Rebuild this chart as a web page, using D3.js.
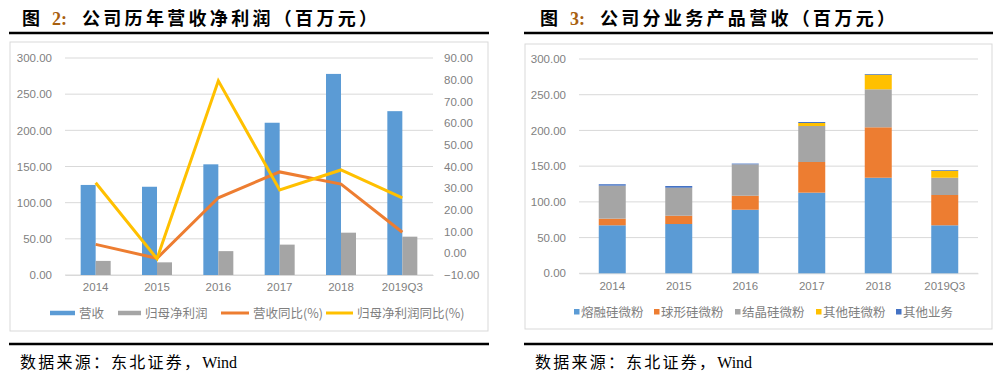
<!DOCTYPE html>
<html>
<head>
<meta charset="utf-8">
<script src="https://cdn.jsdelivr.net/npm/d3@7"></script>
<style>
  body { margin: 0; background: #fff; }
  svg { display: block; }
</style>
</head>
<body>
<svg id="chart" width="999" height="373"></svg>
<script>
// data
var years = ["2014", "2015", "2016", "2017", "2018", "2019Q3"]
var revenue = [124.5, 122, 153, 210.5, 278, 226.5]
var netProfit = [19.5, 17.5, 33, 42, 58.5, 53]
var revenueYoY = [4.1, -2.3, 25.6, 37.5, 31.9, 9.7]
var profitYoY = [32.5, -2.5, 79.5, 29.2, 38.4, 25.5]

var fused = [67.2, 69, 89, 112.9, 133.8, 67.2]
var spherical = [9.3, 11.6, 19.6, 42.9, 70.6, 42.4]
var crystal = [46.2, 39.2, 44, 50.4, 53.2, 24.2]
var otherSilica = [0, 0, 0, 4.2, 20.4, 9.8]
var otherBiz = [2, 2.4, 1, 1.4, 1, 1]

var leftTicks = [0, 50, 100, 150, 200, 250, 300]
var rightTicks = [-10, 0, 10, 20, 30, 40, 50, 60, 70, 80, 90]

var blue = "#5b9bd5", orange = "#ed7d31", gray = "#a5a5a5", yellow = "#ffc000", darkBlue = "#4472c4"
var tickFont = "'Liberation Sans', Arial, sans-serif"
var cjkSans = "'Noto Sans CJK SC', sans-serif"
var serif = "'Liberation Serif', 'Noto Sans CJK SC', serif"

var svg = d3.select("#chart")

// frame: title, rules, box, source line
function frame(x0, x1, boxX0, boxX1, boxY0, boxY1, tx, num, title) {
  svg.append("text")
    .attr("x", tx).attr("y", 25)
    .attr("font-family", cjkSans).attr("font-weight", "bold").attr("font-size", 18)
    .attr("fill", "#000")
    .text("图")
  svg.append("text")
    .attr("x", tx + 30).attr("y", 25)
    .attr("font-family", serif).attr("font-weight", "bold").attr("font-size", 18)
    .attr("fill", "#a8600f")
    .text(num + ":")
  svg.append("text")
    .attr("x", tx + 60).attr("y", 25)
    .attr("font-family", cjkSans).attr("font-weight", "bold").attr("font-size", 18)
    .attr("fill", "#000")
    .attr("textLength", 295).attr("lengthAdjust", "spacing")
    .text(title)

  svg.append("line")
    .attr("x1", x0).attr("x2", x1).attr("y1", 33).attr("y2", 33)
    .attr("stroke", "#000").attr("stroke-width", 2.5)

  svg.append("rect")
    .attr("x", boxX0).attr("y", boxY0)
    .attr("width", boxX1 - boxX0).attr("height", boxY1 - boxY0)
    .attr("fill", "none").attr("stroke", "#d9d9d9").attr("stroke-width", 1)

  svg.append("line")
    .attr("x1", x0).attr("x2", x1).attr("y1", 344).attr("y2", 344)
    .attr("stroke", "#000").attr("stroke-width", 2.5)

  var s = svg.append("text")
    .attr("x", x0 + 11).attr("y", 368)
    .attr("font-family", serif)
    .attr("font-size", 16)
    .attr("fill", "#000")
  s.append("tspan").attr("textLength", 180).attr("lengthAdjust", "spacing").text("数据来源：东北证券，")
  s.append("tspan").text("Wind")
}

frame(9, 489, 10, 488, 42, 331, 22, "2", "公司历年营收净利润（百万元）")
frame(524, 993, 525, 992, 44, 329, 540, "3", "公司分业务产品营收（百万元）")

// ---------- left chart ----------
var xL = d3.scaleBand().domain(years).range([65, 433])
var yL = d3.scaleLinear().domain([0, 300]).range([275, 58])
var yR = d3.scaleLinear().domain([-10, 90]).range([275, 58])

var gL = svg.append("g")

gL.append("g")
  .selectAll("line").data(leftTicks).enter().append("line")
  .attr("x1", 65).attr("x2", 433)
  .attr("y1", function (d) { return yL(d) }).attr("y2", function (d) { return yL(d) })
  .attr("stroke", "#d9d9d9").attr("stroke-width", 1)

var axL = gL.append("g").attr("transform", "translate(55,0)")
  .call(d3.axisLeft(yL).tickValues(leftTicks).tickFormat(d3.format(".2f")).tickSize(0))
axL.select(".domain").remove()
axL.selectAll("text").attr("font-family", tickFont).attr("font-size", 11.5).attr("fill", "#7f7f7f")

var axR = gL.append("g").attr("transform", "translate(441,0)")
  .call(d3.axisRight(yR).tickValues(rightTicks).tickFormat(d3.format(".2f")).tickSize(0))
axR.select(".domain").remove()
axR.selectAll("text").attr("font-family", tickFont).attr("font-size", 11.5).attr("fill", "#7f7f7f")

var axXL = gL.append("g").attr("transform", "translate(0,275)")
  .call(d3.axisBottom(xL).tickSize(0).tickPadding(8))
axXL.select(".domain").attr("stroke", "#d9d9d9")
axXL.selectAll("text").attr("font-family", tickFont).attr("font-size", 11.5).attr("fill", "#7f7f7f")

var bw = 15
gL.selectAll(".rev").data(revenue).enter().append("rect")
  .attr("x", function (d, i) { return xL(years[i]) + xL.bandwidth() / 2 - bw })
  .attr("y", function (d) { return yL(d) })
  .attr("width", bw)
  .attr("height", function (d) { return yL(0) - yL(d) })
  .attr("fill", blue)

gL.selectAll(".np").data(netProfit).enter().append("rect")
  .attr("x", function (d, i) { return xL(years[i]) + xL.bandwidth() / 2 })
  .attr("y", function (d) { return yL(d) })
  .attr("width", bw)
  .attr("height", function (d) { return yL(0) - yL(d) })
  .attr("fill", gray)

var line = d3.line()
  .x(function (d, i) { return xL(years[i]) + xL.bandwidth() / 2 })
  .y(function (d) { return yR(d) })

gL.append("path").datum(revenueYoY)
  .attr("d", line).attr("fill", "none")
  .attr("stroke", orange).attr("stroke-width", 3)

gL.append("path").datum(profitYoY)
  .attr("d", line).attr("fill", "none")
  .attr("stroke", yellow).attr("stroke-width", 3)

// left legend
var legL = [
  { name: "营收", color: blue, x: 50, w: 25, sw: 4.5 },
  { name: "归母净利润", color: gray, x: 118, w: 23, sw: 4.5 },
  { name: "营收同比(%)", color: orange, x: 221, w: 28, sw: 3 },
  { name: "归母净利润同比(%)", color: yellow, x: 326, w: 27, sw: 3 }
]
var lg = gL.selectAll(".legL").data(legL).enter().append("g")
lg.append("line")
  .attr("x1", function (d) { return d.x }).attr("x2", function (d) { return d.x + d.w })
  .attr("y1", 313).attr("y2", 313)
  .attr("stroke", function (d) { return d.color })
  .attr("stroke-width", function (d) { return d.sw })
lg.append("text")
  .attr("x", function (d) { return d.x + d.w + 4 })
  .attr("y", 317.5)
  .attr("font-family", cjkSans).attr("font-size", 12.5).attr("fill", "#7f7f7f")
  .text(function (d) { return d.name })

// ---------- right chart ----------
var seriesNames = ["熔融硅微粉", "球形硅微粉", "结晶硅微粉", "其他硅微粉", "其他业务"]
var seriesColors = [blue, orange, gray, yellow, darkBlue]
var rows = years.map(function (y, i) {
  return { year: y, s0: fused[i], s1: spherical[i], s2: crystal[i], s3: otherSilica[i], s4: otherBiz[i] }
})
var stack = d3.stack().keys(["s0", "s1", "s2", "s3", "s4"])(rows)

var xS = d3.scaleBand().domain(years).range([579, 978])
var yS = d3.scaleLinear().domain([0, 300]).range([273.3, 59])

var gS = svg.append("g")
gS.append("g")
  .selectAll("line").data(leftTicks).enter().append("line")
  .attr("x1", 579).attr("x2", 978)
  .attr("y1", function (d) { return yS(d) }).attr("y2", function (d) { return yS(d) })
  .attr("stroke", "#d9d9d9").attr("stroke-width", 1)

var axS = gS.append("g").attr("transform", "translate(569,0)")
  .call(d3.axisLeft(yS).tickValues(leftTicks).tickFormat(d3.format(".2f")).tickSize(0))
axS.select(".domain").remove()
axS.selectAll("text").attr("font-family", tickFont).attr("font-size", 11.5).attr("fill", "#7f7f7f")

var axXS = gS.append("g").attr("transform", "translate(0,273.3)")
  .call(d3.axisBottom(xS).tickSize(0).tickPadding(9))
axXS.select(".domain").attr("stroke", "#d9d9d9")
axXS.selectAll("text").attr("font-family", tickFont).attr("font-size", 11.5).attr("fill", "#7f7f7f")

var sbw = 27
gS.selectAll(".layer").data(stack).enter().append("g")
  .attr("fill", function (d, i) { return seriesColors[i] })
  .selectAll("rect").data(function (d) { return d }).enter().append("rect")
  .attr("x", function (d) { return xS(d.data.year) + xS.bandwidth() / 2 - sbw / 2 })
  .attr("y", function (d) { return yS(d[1]) })
  .attr("width", sbw)
  .attr("height", function (d) { return yS(d[0]) - yS(d[1]) })

// right legend
var legX = [574, 654, 735, 816, 896]
var ls = gS.selectAll(".legS").data(seriesNames).enter().append("g")
ls.append("rect")
  .attr("x", function (d, i) { return legX[i] }).attr("y", 309)
  .attr("width", 5.5).attr("height", 5.5)
  .attr("fill", function (d, i) { return seriesColors[i] })
ls.append("text")
  .attr("x", function (d, i) { return legX[i] + 7 })
  .attr("y", 316.5)
  .attr("font-family", cjkSans).attr("font-size", 12.5).attr("fill", "#7f7f7f")
  .text(function (d) { return d })
</script>
</body>
</html>
